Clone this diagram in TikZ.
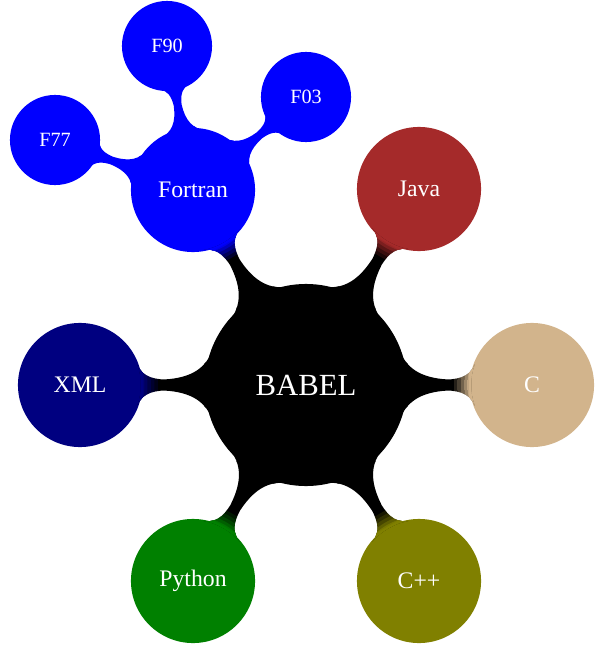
\documentclass[tikz,border=0pt]{standalone}
\usepackage{fontspec}
\setmainfont{Liberation Serif}
\usetikzlibrary{mindmap}
\definecolor{javac}{HTML}{A52A2A}
\definecolor{cc}{HTML}{D2B48C}
\definecolor{cppc}{HTML}{808000}
\definecolor{pyc}{HTML}{008000}
\definecolor{xmlc}{HTML}{000080}
\definecolor{fortc}{HTML}{0000FF}
% bar from parent #1 to child #2 (colour #3), black body, colour blending in near the child
\newcommand\mmbar[3]{%
  \path[barone] (#1) to[circle connection bar switch color=from (black) to (black)] (#2);
  \foreach \o/\op in {0.34/0.18, 0.27/0.22, 0.2/0.3, 0.13/0.45, 0.07/0.7, 0.03/1} {
    \begin{scope}
      \clip (#2) circle[radius={1.22cm+\o cm}];
      \path[barone, opacity=\op] (#1) to[circle connection bar switch color=from (#3) to (#3)] (#2);
    \end{scope}
  }%
}
\begin{document}
\begin{tikzpicture}[x=0.02cm,y=-0.02cm, mindmap, text=white,
  rootc/.style={concept, concept color=black, minimum size=4cm, text width=3cm, font=\fontsize{17.5}{20}\selectfont},
  lvlone/.style={concept, minimum size=2.44cm, text width=1.8cm, font=\fontsize{13.5}{16}\selectfont},
  lvltwo/.style={concept, minimum size=1.76cm, text width=1.2cm, font=\fontsize{11.5}{14}\selectfont},
  barone/.style={line width=0.3cm},
  bartwo/.style={line width=0.2cm}]
\useasboundingbox (0,0) rectangle (595,645);
\node[rootc] (babel) at (306,385) {BABEL};
\node[lvlone, concept color=javac] (java) at (419,189) {Java};
\node[lvlone, concept color=cc] (c) at (532,385) {C};
\node[lvlone, concept color=cppc] (cpp) at (419,581) {C++};
\node[lvlone, concept color=pyc] (python) at (193,581) {Python};
\node[lvlone, concept color=xmlc] (xml) at (80,385) {XML};
\node[lvlone, concept color=fortc] (fortran) at (193,190) {Fortran};
\node[lvltwo, concept color=fortc] (f77) at (55,140) {F77};
\node[lvltwo, concept color=fortc] (f90) at (167,46) {F90};
\node[lvltwo, concept color=fortc] (f03) at (306,97) {F03};
\mmbar{babel}{java}{javac}
\mmbar{babel}{c}{cc}
\mmbar{babel}{cpp}{cppc}
\mmbar{babel}{python}{pyc}
\mmbar{babel}{xml}{xmlc}
\mmbar{babel}{fortran}{fortc}
\path[bartwo] (fortran) to[circle connection bar switch color=from (fortc) to (fortc)] (f77);
\path[bartwo] (fortran) to[circle connection bar switch color=from (fortc) to (fortc)] (f90);
\path[bartwo] (fortran) to[circle connection bar switch color=from (fortc) to (fortc)] (f03);
\end{tikzpicture}
\end{document}
